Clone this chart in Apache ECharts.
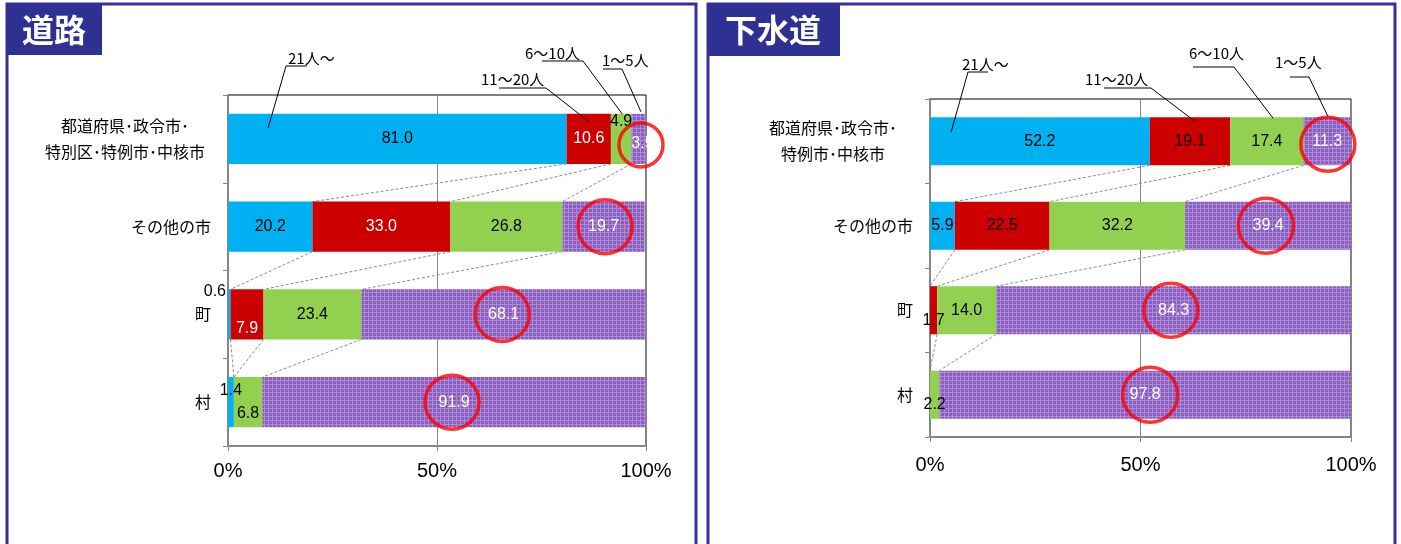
<!DOCTYPE html>
<html><head><meta charset="utf-8">
<script src="https://cdn.jsdelivr.net/npm/echarts@6/dist/echarts.min.js"></script>
<style>html,body{margin:0;padding:0;background:#fff;} #c{width:1401px;height:544px;}</style>
</head><body><div id="c"></div>
<script>
// ---------- data ----------
const seriesNames = ['21人～', '11～20人', '6～10人', '1～5人'];
const panelTitles = ['道路', '下水道'];
const roadCategories = ['都道府県･政令市･\n特別区･特例市･中核市', 'その他の市', '町', '村'];
const road21 = [81.0, 20.2, 0.6, 1.4];
const road11 = [10.6, 33.0, 7.9, 0];
const road6  = [4.9, 26.8, 23.4, 6.8];
const road1  = [3.5, 19.7, 68.1, 91.9];
const sewerCategories = ['都道府県･政令市･\n特例市･中核市', 'その他の市', '町', '村'];
const sewer21 = [52.2, 5.9, 0, 0];
const sewer11 = [19.1, 22.5, 1.7, 0];
const sewer6  = [17.4, 32.2, 14.0, 2.2];
const sewer1  = [11.3, 39.4, 84.3, 97.8];
const xTicks = [0, 50, 100];
// annotation positions (value on x axis)
const roadCircleX  = [98.8, 90.2, 65.6, 53.6];
const sewerCircleX = [94.5, 79.8, 57.2, 52.3];
const roadLeaderX  = [9.6, 86.4, 94.3, 98.8];
const sewerLeaderX = [5.0, 62.9, 81.5, 94.5];

// ---------- styles / layout ----------
function purplePattern() {
  const c = document.createElement('canvas'); c.width = 4; c.height = 4;
  const g = c.getContext('2d');
  g.fillStyle = '#8A5DBE'; g.fillRect(0, 0, 4, 4);
  g.fillStyle = '#AC8BD5'; g.fillRect(0, 0, 4, 1); g.fillRect(0, 0, 1, 4);
  return c;
}
const colors = ['#00B0F0', '#CC0000', '#92D050', {image: purplePattern(), repeat: 'repeat'}];
const labelColors = [['#000', '#fff', '#000', '#fff'], ['#000', '#000', '#000', '#fff']];
const labelOverrides = [
  { '0-2': {position: [-2, 2], align: 'right', verticalAlign: 'middle'},
    '0-3': {position: 'insideTop', distance: 5},
    '1-2': {position: 'insideBottom', distance: 3},
    '2-0': {position: 'insideTop', distance: 0},
    '2-3': {position: 'insideBottom', distance: 6},
    '3-0': {position: 'insideLeft', distance: 0, offset: [0, 5]} },
  { '1-2': {position: 'insideBottom', distance: 6},
    '2-3': {position: 'insideBottom', distance: 6} }
];
const circleStyle = [
  [{size: 44, off: 6}, {size: 54, off: 0}, {size: 54, off: 0}, {size: 54, off: 0}],
  [{size: 54, off: 3}, {size: 55, off: 0}, {size: 54, off: 0}, {size: 55, off: 0}]
];
const annotLayout = [
  [{tx: 288, ty: 58, ux1: 286, ux2: 307, uy: 66, sx: 286, dy: -11},
   {tx: 481, ty: 79, ux1: 499, ux2: 546, uy: 88, sx: 546, dy: -17},
   {tx: 525, ty: 53, ux1: 542, ux2: 583, uy: 61, sx: 583, dy: -25},
   {tx: 602, ty: 60, ux1: 603, ux2: 622, uy: 69, sx: 622, dy: -27}],
  [{tx: 962, ty: 64, ux1: 968, ux2: 988, uy: 72, sx: 968, dy: -9},
   {tx: 1085, ty: 79, ux1: 1104, ux2: 1151, uy: 88, sx: 1151, dy: -20},
   {tx: 1189, ty: 53, ux1: 1193, ux2: 1234, uy: 67, sx: 1234, dy: -23},
   {tx: 1275, ty: 62, ux1: 1290, ux2: 1309, uy: 77, sx: 1309, dy: -25}]
];
const BAR_RATIO = 0.57;
const GRAY = '#868686';
const CJK = '"Noto Sans CJK JP", sans-serif';
const LAT = '"Liberation Sans", Arial, sans-serif';

const panels = [
  {cats: roadCategories, stacks: [road21, road11, road6, road1], circles: roadCircleX, leaders: roadLeaderX,
   grid: {left: 228, right: 755, top: 95, bottom: 98}, xMargin: 15, labelW: 172},
  {cats: sewerCategories, stacks: [sewer21, sewer11, sewer6, sewer1], circles: sewerCircleX, leaders: sewerLeaderX,
   grid: {left: 930, right: 50, top: 99, bottom: 107}, xMargin: 18, labelW: 160}
];

const grids = [], xAxes = [], yAxes = [], series = [];
panels.forEach((p, pi) => {
  grids.push(Object.assign({show: true, borderColor: '#000', borderWidth: 1, containLabel: false}, p.grid));
  xAxes.push({
    type: 'value', gridIndex: pi, min: xTicks[0], max: xTicks[xTicks.length - 1], interval: xTicks[1] - xTicks[0],
    axisLine: {show: true, lineStyle: {color: GRAY, width: 2}},
    axisTick: {show: true, length: 5, lineStyle: {color: GRAY, width: 1}},
    splitLine: {show: true, lineStyle: {color: GRAY, width: 1}},
    axisLabel: {formatter: '{value}%', fontSize: 20, color: '#000', fontFamily: LAT, margin: p.xMargin}
  });
  yAxes.push({
    type: 'category', gridIndex: pi, inverse: true, data: p.cats,
    axisLine: {show: true, lineStyle: {color: GRAY, width: 2}},
    axisTick: {show: true, length: 5, lineStyle: {color: GRAY, width: 1}},
    axisLabel: {
      fontSize: 16, color: '#000', fontFamily: CJK, margin: 17, lineHeight: 26,
      formatter: (v) => v.indexOf('\n') >= 0 ? '{m|' + v + '}' : v,
      rich: {m: {width: p.labelW, align: 'center', fontSize: 16, lineHeight: 26, fontFamily: CJK, color: '#000'}}
    }
  });
  p.stacks.forEach((arr, si) => {
    series.push({
      type: 'bar', name: seriesNames[si], stack: 'p' + pi, xAxisIndex: pi, yAxisIndex: pi,
      barWidth: (BAR_RATIO * 100) + '%', z: 2,
      itemStyle: {color: colors[si]},
      label: {show: true, position: 'inside', fontSize: 16, fontFamily: LAT, color: labelColors[pi][si],
               formatter: (d) => Number(d.value).toFixed(1)},
      data: arr.map((v, ri) => {
        const item = {value: v};
        if (v === 0) item.label = {show: false};
        const ov = labelOverrides[pi][si + '-' + ri];
        if (ov) item.label = Object.assign({show: true}, ov);
        return item;
      })
    });
  });
  // dashed connectors between bars
  series.push({
    type: 'custom', xAxisIndex: pi, yAxisIndex: pi, silent: true, clip: false, z: 1,
    data: [[0, 0], [0, 1], [0, 2]], encode: {x: 0, y: 1},
    renderItem: (params, api) => {
      const r = params.dataIndex;
      const band = Math.abs(api.size([0, 1])[1]);
      const half = band * BAR_RATIO / 2;
      const children = [];
      let c1 = 0, c2 = 0;
      for (let k = 0; k < 3; k++) {
        c1 += p.stacks[k][r]; c2 += p.stacks[k][r + 1];
        const a = api.coord([c1, r]), b = api.coord([c2, r + 1]);
        children.push({type: 'line', shape: {x1: a[0], y1: a[1] + half, x2: b[0], y2: b[1] - half},
          style: {stroke: '#8c8c8c', lineWidth: 1, lineDash: [3, 2]}});
      }
      return {type: 'group', children};
    }
  });
  // series-name callouts
  series.push({
    type: 'custom', xAxisIndex: pi, yAxisIndex: pi, silent: true, clip: false, z: 6,
    data: p.leaders.map((x) => [x, 0]), encode: {x: 0, y: 1},
    renderItem: (params, api) => {
      const L = annotLayout[pi][params.dataIndex];
      const e = api.coord([api.value(0), 0]);
      return {type: 'group', children: [
        {type: 'text', style: {text: seriesNames[params.dataIndex], x: L.tx, y: L.ty, fill: '#000',
          font: '15px ' + CJK, textVerticalAlign: 'middle', verticalAlign: 'middle'}},
        {type: 'line', shape: {x1: L.ux1, y1: L.uy, x2: L.ux2, y2: L.uy}, style: {stroke: '#000', lineWidth: 1}},
        {type: 'line', shape: {x1: L.sx, y1: L.uy, x2: e[0], y2: e[1] + L.dy}, style: {stroke: '#000', lineWidth: 1}}
      ]};
    }
  });
  // red circles
  series.push({
    type: 'scatter', xAxisIndex: pi, yAxisIndex: pi, silent: true, z: 5, clip: false,
    itemStyle: {color: 'rgba(0,0,0,0)', borderColor: '#FF0000', borderWidth: 3.5},
    data: p.circles.map((x, ri) => ({value: [x, ri], symbolSize: circleStyle[pi][ri].size,
      symbolOffset: [0, circleStyle[pi][ri].off]}))
  });
});

const frame = '#3333A0', boxFill = '#2E3192';
const graphic = [
  {type: 'rect', shape: {x: 7, y: 4, width: 689, height: 600}, style: {fill: 'none', stroke: frame, lineWidth: 3}, z: -10},
  {type: 'rect', shape: {x: 708, y: 4, width: 687, height: 600}, style: {fill: 'none', stroke: frame, lineWidth: 3}, z: -10},
  {type: 'rect', shape: {x: 6, y: 3, width: 96, height: 52}, style: {fill: boxFill}},
  {type: 'rect', shape: {x: 707, y: 3, width: 133, height: 53}, style: {fill: boxFill}},
  {type: 'text', x: 54, y: 30, style: {text: panelTitles[0], fill: '#fff', font: 'bold 32px ' + CJK, align: 'center', verticalAlign: 'middle'}},
  {type: 'text', x: 773, y: 30, style: {text: panelTitles[1], fill: '#fff', font: 'bold 32px ' + CJK, align: 'center', verticalAlign: 'middle'}}
];

const chart = echarts.init(document.getElementById('c'), null, {renderer: 'canvas'});
chart.setOption({
  animation: false, backgroundColor: '#fff',
  grid: grids, xAxis: xAxes, yAxis: yAxes, series, graphic
});
</script></body></html>
